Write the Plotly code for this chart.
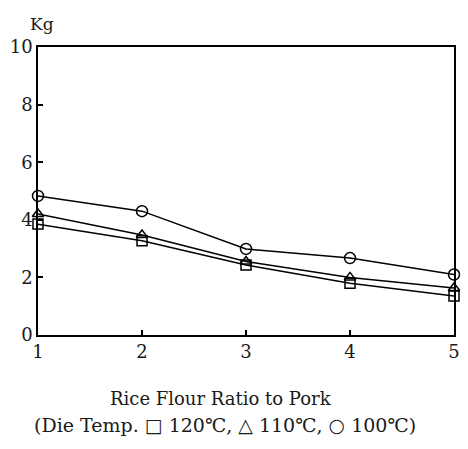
import plotly.graph_objects as go

ratio = [1, 2, 3, 4, 5]
temp_120 = [3.85, 3.27, 2.43, 1.8, 1.35]
temp_110 = [4.2, 3.47, 2.55, 2.0, 1.63]
temp_100 = [4.83, 4.3, 2.99, 2.67, 2.1]
y_ticks = [0, 2, 4, 6, 8, 10]

font_family = "DejaVu Serif, Liberation Serif, serif"

fig = go.Figure()
series = [
    (temp_100, "circle-open", 11, "100℃"),
    (temp_110, "triangle-up-open", 10, "110℃"),
    (temp_120, "square-open", 10, "120℃"),
]
for vals, sym, size, name in series:
    fig.add_trace(go.Scatter(
        x=ratio, y=vals, mode="lines+markers", name=name,
        line=dict(color="black", width=1.5),
        marker=dict(symbol=sym, size=size, color="black",
                    line=dict(color="black", width=1.5)),
        cliponaxis=False, showlegend=False,
    ))

fig.update_layout(
    width=468, height=449,
    margin=dict(l=38, r=8, t=47, b=114),
    paper_bgcolor="white", plot_bgcolor="white",
    font=dict(family=font_family, size=18, color="#1a1a1a"),
    xaxis=dict(range=[1, 5], tickvals=ratio, showgrid=False, zeroline=False,
               showline=True, linecolor="black", linewidth=1.5, mirror=True,
               ticks="inside", ticklen=5, tickcolor="black", tickwidth=1.5,
               tickfont=dict(size=18)),
    yaxis=dict(range=[0, 10], tickvals=y_ticks, showgrid=False, zeroline=False,
               showline=True, linecolor="black", linewidth=1.5, mirror=True,
               ticks="inside", ticklen=5, tickcolor="black", tickwidth=1.5,
               tickfont=dict(size=18)),
    annotations=[
        dict(text="Kg", xref="paper", yref="paper", x=0.01, y=1.0,
             yshift=23, xanchor="center", yanchor="middle", showarrow=False,
             font=dict(size=17)),
        dict(text="Rice Flour Ratio to Pork", xref="paper", yref="paper",
             x=0.44, y=0, yshift=-63, xanchor="center", yanchor="middle",
             showarrow=False, font=dict(size=18)),
        dict(text="(Die Temp. □ 120℃, △ 110℃, ○ 100℃)", xref="paper",
             yref="paper", x=0.45, y=0, yshift=-90, xanchor="center",
             yanchor="middle", showarrow=False, font=dict(size=19)),
    ],
)

fig.write_html("out.html",
               config={"displayModeBar": False},
               post_script="document.body.style.margin='0';")
